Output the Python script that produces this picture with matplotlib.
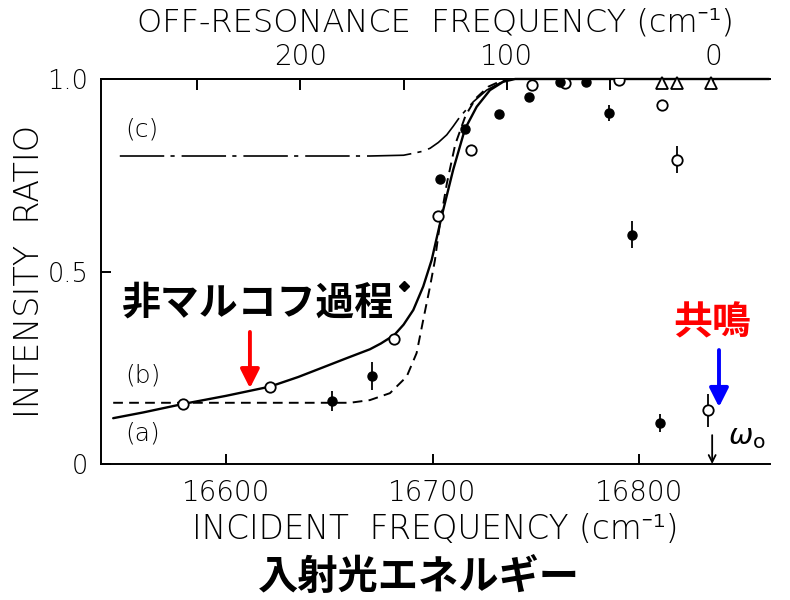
import matplotlib
matplotlib.use('Agg')
import matplotlib.pyplot as plt
from matplotlib import font_manager

plt.rcParams['font.family'] = ['DejaVu Sans']
plt.rcParams['mathtext.fontset'] = 'dejavusans'
plt.rcParams['lines.scale_dashes'] = False

# ---------------- data ----------------
W0 = 16836.0  # resonance frequency (cm^-1)

open_x = [16579.3, 16621.3, 16681.5, 16702.5, 16718.6, 16748.3, 16764.2, 16790.5, 16811.3, 16818.3, 16833.3]
open_y = [0.156, 0.201, 0.324, 0.645, 0.815, 0.984, 0.990, 0.997, 0.932, 0.790, 0.140]
open_err = [0, 0, 0, 0, 0, 0, 0, 0, 0, 0.035, 0.043]

fill_x = [16651.5, 16670.5, 16703.5, 16715.7, 16732.4, 16746.9, 16761.7, 16774.2, 16785.6, 16796.5, 16810.2]
fill_y = [0.164, 0.229, 0.740, 0.870, 0.910, 0.954, 0.991, 0.991, 0.912, 0.595, 0.106]
fill_err = [0.026, 0.036, 0, 0, 0, 0, 0, 0, 0.02, 0.035, 0.024]

diam_x = [16686.3]
diam_y = [0.463]

tri_x = [16811.3, 16818.3, 16834.7]
tri_y = [0.99, 0.99, 0.99]

curve_b_x = [16545.4, 16560, 16579.3, 16600, 16621.3, 16635, 16647, 16658, 16669.7, 16675, 16681.5,
             16686, 16690.7, 16695.5, 16699.6, 16704.5, 16710, 16715.7, 16721.4, 16727.8, 16734.3,
             16740, 16863]
curve_b_y = [0.119, 0.134, 0.156, 0.177, 0.201, 0.226, 0.251, 0.274, 0.298, 0.313, 0.335,
             0.362, 0.400, 0.461, 0.530, 0.645, 0.764, 0.870, 0.928, 0.971, 0.993,
             1.0, 1.0]

curve_a_x = [16545.4, 16660, 16669.7, 16679.4, 16687.5, 16692.3, 16695.5, 16698.8, 16701.2, 16703.6,
             16707, 16711, 16716, 16721, 16727, 16734, 16740]
curve_a_y = [0.159, 0.159, 0.166, 0.184, 0.227, 0.288, 0.374, 0.461, 0.530, 0.625,
             0.73, 0.83, 0.905, 0.95, 0.98, 0.997, 1.0]

curve_c_x = [16548.6, 16669.7, 16686, 16690.7, 16695, 16698.8, 16702.8, 16706.9, 16710, 16713.3,
             16719.8, 16726.2, 16732.7, 16738]
curve_c_y = [0.80, 0.80, 0.802, 0.807, 0.812, 0.82, 0.835, 0.855, 0.877, 0.902,
             0.941, 0.971, 0.990, 1.0]

bottom_ticks = [16600, 16700, 16800]
bottom_labels = ['16600', '16700', '16800']
top_ticks = [250, 200, 150, 100, 50, 0]
top_labels = ['', '200', '', '100', '', '0']
y_ticks = [0, 0.5, 1.0]
y_labels = ['0', '0.5', '1.0']

# light weight if available
names = {(f.name, f.weight) for f in font_manager.fontManager.ttflist}
LW = 'light' if any(n == 'DejaVu Sans' and w in (200, 300, 'light', 'extra-light') for n, w in names) else 'normal'
LAT = ['DejaVu Sans', 'Noto Sans', 'DejaVu Serif']

# ---------------- figure ----------------
fig = plt.figure(figsize=(7.9, 6.0), dpi=100)
ax = fig.add_axes([101/790, 1 - 464/600, 669/790, 385/600])
ax.set_xlim(16539.5, 16863.4)
ax.set_ylim(0, 1.0)

for s in ['left', 'bottom', 'top']:
    ax.spines[s].set_linewidth(1.4)
ax.spines['right'].set_visible(False)

# curves
ax.plot(curve_b_x, curve_b_y, color='black', lw=1.7, solid_capstyle='round', solid_joinstyle='round',
        clip_on=False, zorder=3)
ax.plot(curve_a_x, curve_a_y, color='black', lw=1.4, dashes=(7, 4.5), zorder=3)
ax.plot(curve_c_x, curve_c_y, color='black', lw=1.2, dashes=(32, 4.5, 3, 5), zorder=3)

# error bars
ax.errorbar(open_x, open_y, yerr=open_err, fmt='none', ecolor='black', elinewidth=1.3, capsize=0, zorder=4)
ax.errorbar(fill_x, fill_y, yerr=fill_err, fmt='none', ecolor='black', elinewidth=1.3, capsize=0, zorder=4)

# markers
ax.plot(open_x, open_y, 'o', ms=7.5, mfc='white', mec='black', mew=1.3, ls='none', zorder=5)
ax.plot(fill_x, fill_y, 'o', ms=6.5, mfc='black', mec='black', ls='none', zorder=5)
ax.plot(diam_x, diam_y, 'D', ms=5.5, mfc='black', mec='black', ls='none', zorder=5)
ax.plot(tri_x, tri_y, '^', ms=8.5, mfc='white', mec='black', mew=1.3, ls='none', zorder=5, clip_on=False)

# ticks
ax.set_xticks(bottom_ticks)
ax.set_xticklabels(bottom_labels, fontweight=LW)
ax.set_yticks(y_ticks)
ax.set_yticklabels(y_labels, fontweight=LW)
ax.tick_params(axis='both', direction='in', length=7, width=1.4, labelsize=20, pad=9)
ax.tick_params(axis='y', labelsize=18.5, pad=9)
ax.tick_params(axis='x', pad=11)

secax = ax.secondary_xaxis('top', functions=(lambda x: W0 - x, lambda x: W0 - x))
secax.set_xticks(top_ticks)
secax.set_xticklabels(top_labels, fontweight=LW)
secax.tick_params(direction='in', length=8, width=1.4, labelsize=20, pad=6)
secax.spines['top'].set_linewidth(1.4)
secax.set_xlabel('OFF-RESONANCE  FREQUENCY (cm⁻¹)', fontsize=23, fontweight=LW, family=LAT, labelpad=8)

ax.set_xlabel('INCIDENT  FREQUENCY (cm⁻¹)', fontsize=23.5, fontweight=LW, family=LAT, labelpad=4)
ax.set_ylabel('INTENSITY  RATIO', fontsize=24, fontweight=LW, labelpad=1)

# curve labels
ax.text(16551, 0.868, '(c)', fontsize=18, fontweight=LW, ha='left', va='center')
ax.text(16551, 0.230, '(b)', fontsize=18, fontweight=LW, ha='left', va='center')
ax.text(16551, 0.080, '(a)', fontsize=18, fontweight=LW, ha='left', va='center')

# omega_0 arrow
ax.annotate('', xy=(W0 - 0.6, 0.0), xytext=(W0 - 0.6, 0.075),
            arrowprops=dict(arrowstyle='->,head_width=0.25,head_length=0.5', lw=1.3, color='black',
                            shrinkA=0, shrinkB=0))
ax.text(16843, 0.07, r'$\omega_\mathrm{o}$', fontsize=21, ha='left', va='center')

# Japanese annotations
jp = ['Noto Sans CJK JP', 'DejaVu Sans']
ax.text(16615.5, 0.418, '非マルコフ過程', fontsize=28, fontweight='bold', family=jp,
        ha='center', va='center')
ax.annotate('', xy=(16611.6, 0.197), xytext=(16611.6, 0.343),
            arrowprops=dict(arrowstyle='-|>,head_width=0.48,head_length=0.95', lw=2.8, color='#ff0000',
                            shrinkA=0, shrinkB=0, mutation_scale=12))
ax.text(16835.3, 0.366, '共鳴', fontsize=28, fontweight='bold', family=jp, color='#ff0000',
        ha='center', va='center')
ax.annotate('', xy=(16838.7, 0.148), xytext=(16838.7, 0.296),
            arrowprops=dict(arrowstyle='-|>,head_width=0.48,head_length=0.95', lw=2.8, color='#0000ff',
                            shrinkA=0, shrinkB=0, mutation_scale=12))

fig.text(419/790, 1 - 577/600, '入射光エネルギー', fontsize=29, fontweight='bold', family=jp,
         ha='center', va='center')

fig.savefig('out.png', dpi=100)
